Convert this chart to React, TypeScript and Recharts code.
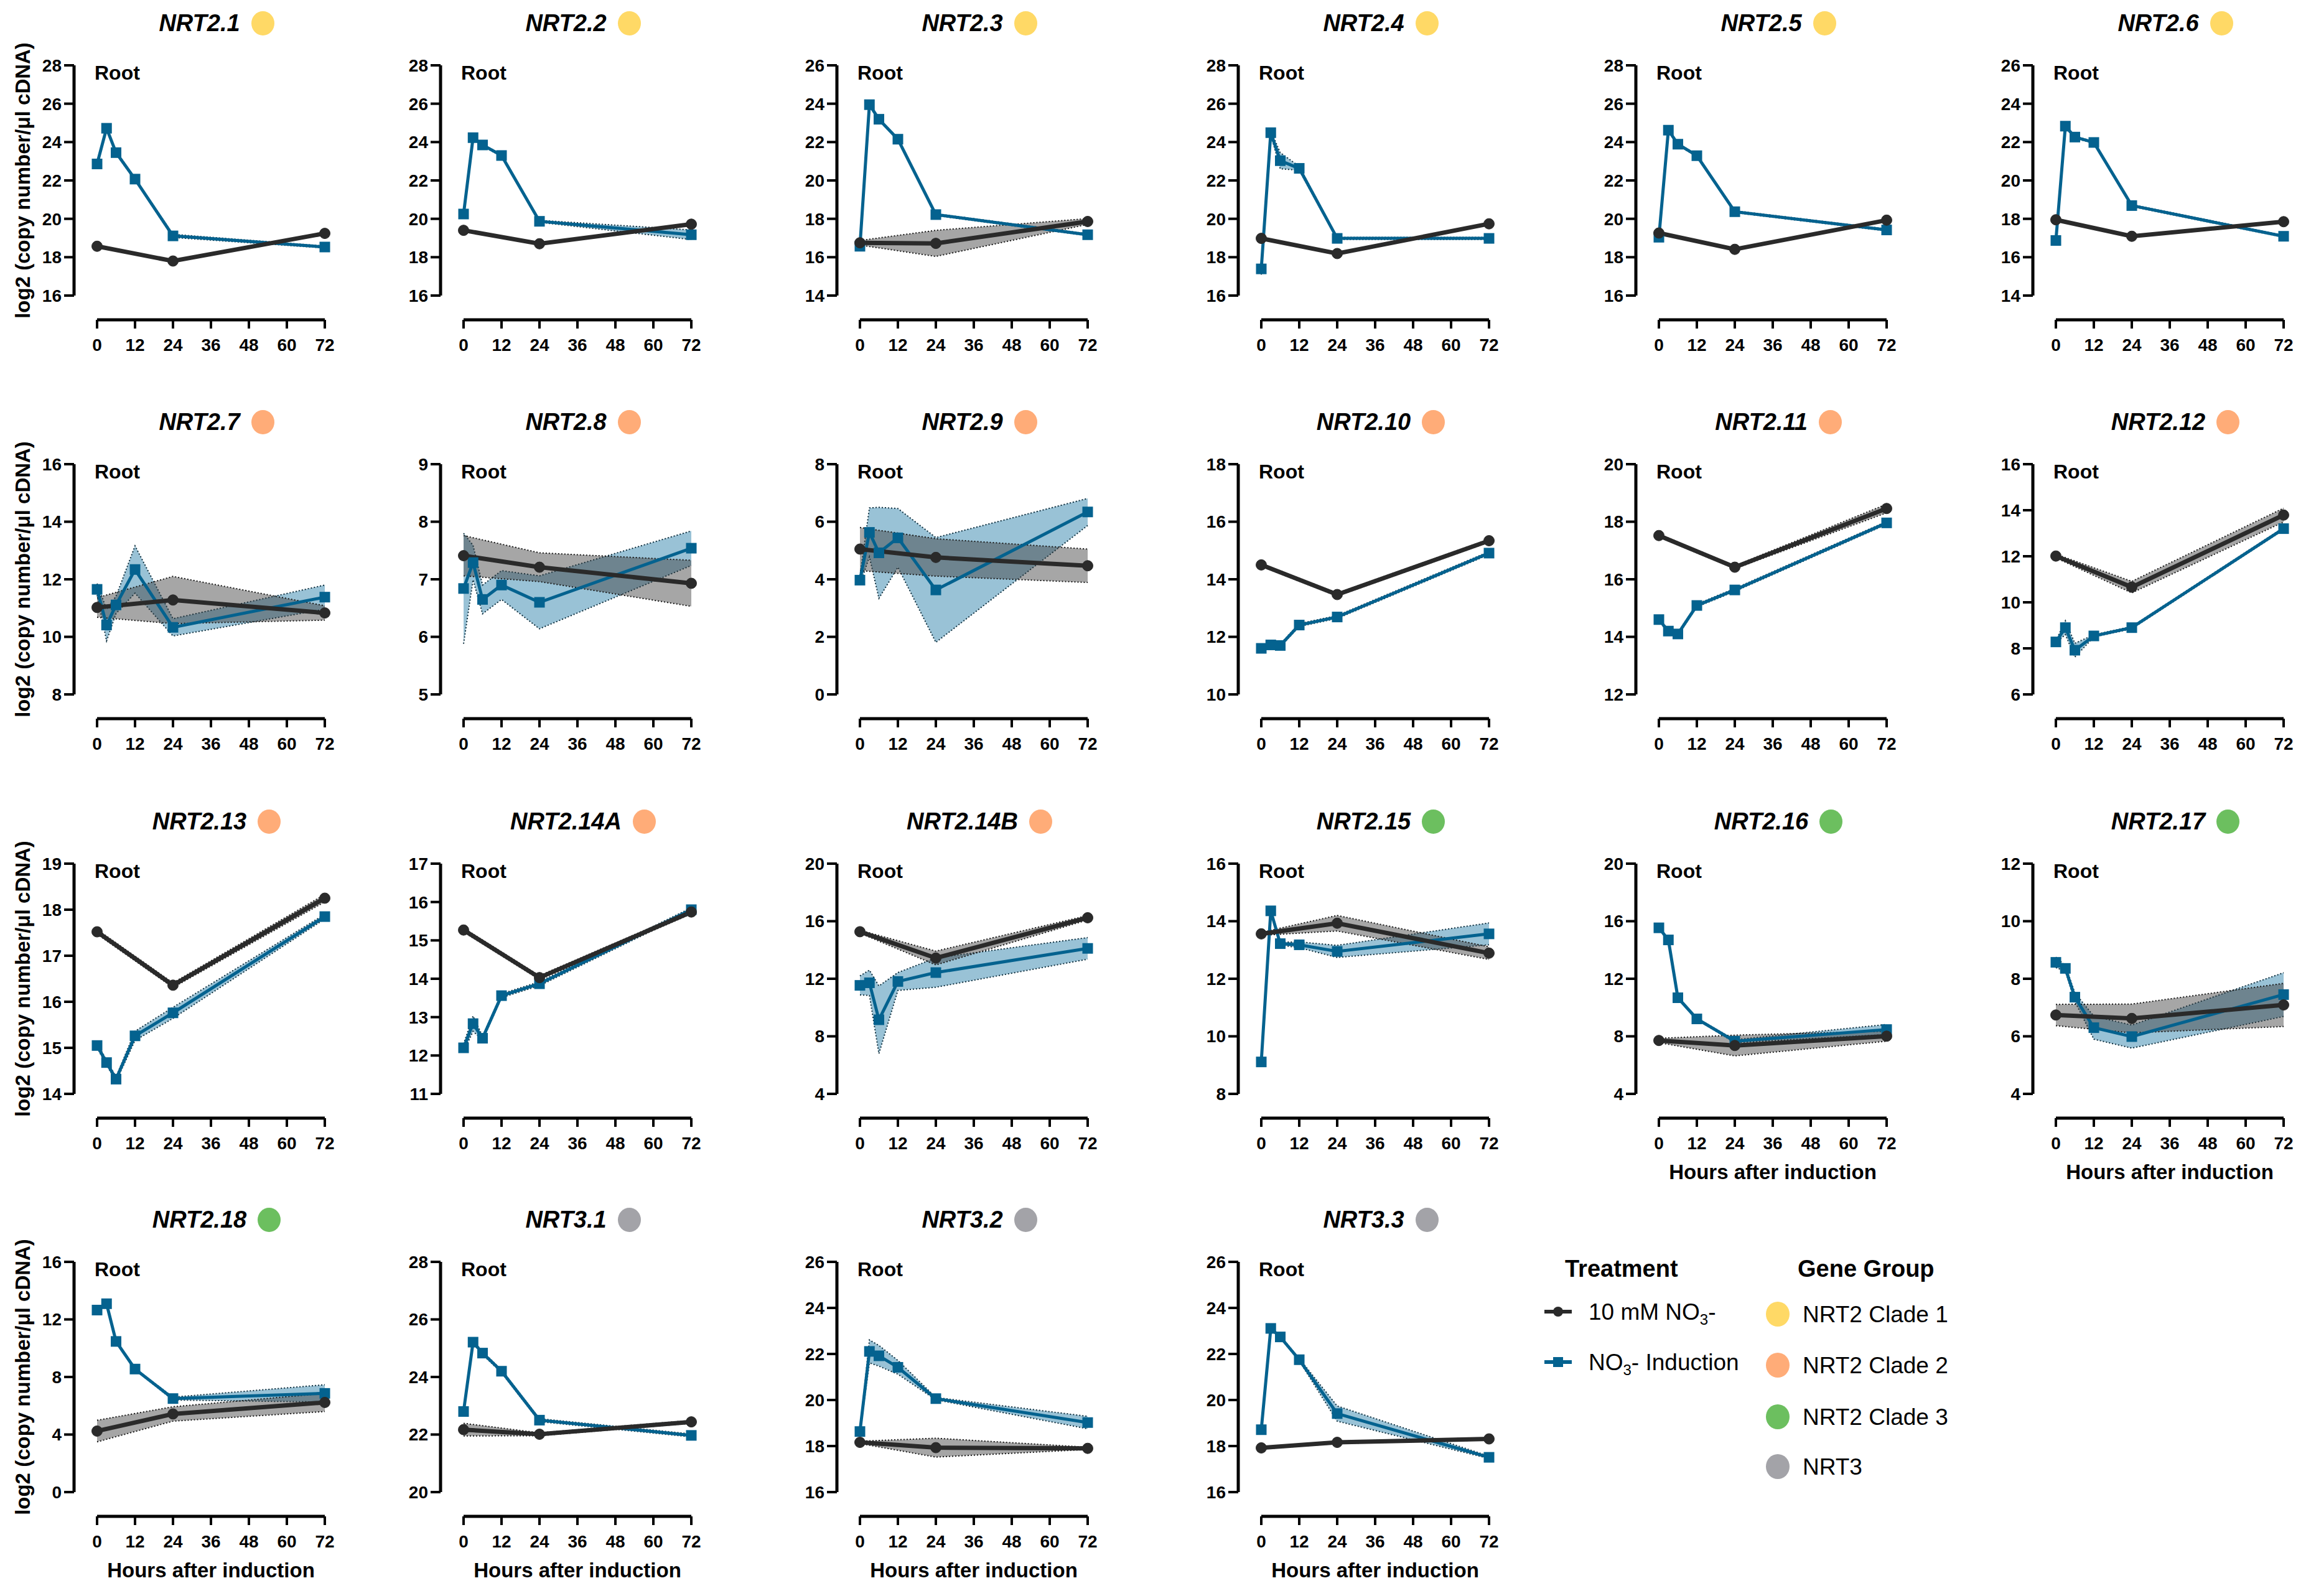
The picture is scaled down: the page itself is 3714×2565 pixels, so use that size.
import React from "react";
import { ComposedChart, Line, Area, XAxis, YAxis, ReferenceLine } from "recharts";

// ---- data ----
const GENES = [
  "NRT2.1", "NRT2.2", "NRT2.3", "NRT2.4", "NRT2.5", "NRT2.6",
  "NRT2.7", "NRT2.8", "NRT2.9", "NRT2.10", "NRT2.11", "NRT2.12",
  "NRT2.13", "NRT2.14A", "NRT2.14B", "NRT2.15", "NRT2.16", "NRT2.17",
  "NRT2.18", "NRT3.1", "NRT3.2", "NRT3.3",
];
const GENE_GROUP = [0, 0, 0, 0, 0, 0, 1, 1, 1, 1, 1, 1, 1, 1, 1, 2, 2, 2, 2, 3, 3, 3];
const GROUPS = ["NRT2 Clade 1", "NRT2 Clade 2", "NRT2 Clade 3", "NRT3"];
const GROUP_COLORS = ["#FFD966", "#FFAC78", "#6CBF5F", "#A3A3A8"];

const X_TICKS = [0, 12, 24, 36, 48, 60, 72];
const Y_TICKS = [
  [16, 18, 20, 22, 24, 26, 28],
  [16, 18, 20, 22, 24, 26, 28],
  [14, 16, 18, 20, 22, 24, 26],
  [16, 18, 20, 22, 24, 26, 28],
  [16, 18, 20, 22, 24, 26, 28],
  [14, 16, 18, 20, 22, 24, 26],
  [8, 10, 12, 14, 16],
  [5, 6, 7, 8, 9],
  [0, 2, 4, 6, 8],
  [10, 12, 14, 16, 18],
  [12, 14, 16, 18, 20],
  [6, 8, 10, 12, 14, 16],
  [14, 15, 16, 17, 18, 19],
  [11, 12, 13, 14, 15, 16, 17],
  [4, 8, 12, 16, 20],
  [8, 10, 12, 14, 16],
  [4, 8, 12, 16, 20],
  [4, 6, 8, 10, 12],
  [0, 4, 8, 12, 16],
  [20, 22, 24, 26, 28],
  [16, 18, 20, 22, 24, 26],
  [16, 18, 20, 22, 24, 26],
];

// 10 mM NO3- (black), hours 0 / 24 / 72
const TIMES_NO3 = [0, 24, 72];
const NO3_MEAN = [
  [18.57, 17.8, 19.24], [19.4, 18.7, 19.72], [16.75, 16.72, 17.86], [18.98, 18.19, 19.74],
  [19.26, 18.41, 19.93], [17.95, 17.09, 17.85], [11.02, 11.28, 10.83], [7.41, 7.21, 6.93],
  [5.05, 4.76, 4.47], [14.5, 13.47, 15.34], [17.52, 16.42, 18.46], [12.01, 10.66, 13.79],
  [17.52, 16.36, 18.25], [15.27, 14.03, 15.74], [15.27, 13.44, 16.24], [13.56, 13.93, 12.89],
  [7.71, 7.36, 8.01], [6.74, 6.62, 7.09], [4.24, 5.43, 6.23], [22.17, 22.01, 22.44],
  [18.16, 17.93, 17.9], [17.92, 18.16, 18.31],
];
const NO3_ERR = [
  [0.05, 0.05, 0.05], [0.05, 0.05, 0.05], [0.12, 0.68, 0.15], [0.05, 0.05, 0.05],
  [0.05, 0.05, 0.05], [0.05, 0.05, 0.05], [0.34, 0.82, 0.25], [0.35, 0.25, 0.4],
  [0.75, 0.65, 0.58], [0.05, 0.05, 0.05], [0.05, 0.05, 0.15], [0.08, 0.25, 0.3],
  [0.05, 0.05, 0.08], [0.05, 0.05, 0.05], [0.1, 0.48, 0.15], [0.05, 0.27, 0.22],
  [0.15, 0.72, 0.35], [0.37, 0.5, 0.75], [0.75, 0.5, 0.63], [0.22, 0.05, 0.05],
  [0.05, 0.41, 0.05], [0.05, 0.05, 0.05],
];

// NO3- induction (blue), hours 0 / 3 / 6 / 12 / 24 / 72
const TIMES_IND = [0, 3, 6, 12, 24, 72];
const IND_MEAN = [
  [22.86, 24.72, 23.45, 22.07, 19.11, 18.53],
  [20.25, 24.23, 23.85, 23.3, 19.87, 19.17],
  [16.57, 23.95, 23.19, 22.15, 18.22, 17.17],
  [17.39, 24.49, 23.03, 22.63, 18.98, 18.98],
  [19.04, 24.62, 23.89, 23.29, 20.37, 19.42],
  [16.87, 22.83, 22.26, 21.98, 18.69, 17.09],
  [11.65, 10.41, 11.11, 12.34, 10.33, 11.38],
  [6.84, 7.29, 6.65, 6.9, 6.6, 7.54],
  [3.97, 5.63, 4.92, 5.44, 3.63, 6.34],
  [11.6, 11.72, 11.7, 12.41, 12.69, 14.91],
  [14.6, 14.2, 14.1, 15.09, 15.63, 17.96],
  [8.28, 8.9, 7.92, 8.54, 8.9, 13.2],
  [15.05, 14.68, 14.32, 15.26, 15.76, 17.85],
  [12.2, 12.83, 12.45, 13.56, 13.87, 15.8],
  [11.54, 11.72, 9.15, 11.81, 12.43, 14.11],
  [9.11, 14.36, 13.22, 13.18, 12.95, 13.56],
  [15.54, 14.7, 10.68, 9.21, 7.66, 8.47],
  [8.57, 8.36, 7.36, 6.3, 5.99, 7.45],
  [12.65, 13.09, 10.47, 8.55, 6.5, 6.86],
  [22.8, 25.21, 24.83, 24.2, 22.5, 21.97],
  [18.63, 22.11, 21.92, 21.42, 20.06, 19.02],
  [18.71, 23.11, 22.74, 21.75, 19.41, 17.51],
];
const IND_ERR = [
  [0.1, 0.05, 0.08, 0.05, 0.08, 0.05],
  [0.05, 0.05, 0.05, 0.05, 0.05, 0.25],
  [0.1, 0.05, 0.05, 0.05, 0.05, 0.05],
  [0.3, 0.1, 0.42, 0.1, 0.05, 0.05],
  [0.05, 0.05, 0.05, 0.05, 0.05, 0.05],
  [0.05, 0.05, 0.05, 0.05, 0.05, 0.05],
  [0.2, 0.55, 0.3, 0.82, 0.3, 0.42],
  [0.96, 0.3, 0.25, 0.25, 0.46, 0.3],
  [0.15, 0.85, 1.58, 1.02, 1.82, 0.47],
  [0.05, 0.05, 0.05, 0.05, 0.05, 0.05],
  [0.05, 0.05, 0.05, 0.05, 0.05, 0.05],
  [0.05, 0.3, 0.3, 0.05, 0.05, 0.05],
  [0.05, 0.05, 0.05, 0.1, 0.12, 0.05],
  [0.1, 0.2, 0.05, 0.05, 0.05, 0.05],
  [0.66, 0.88, 2.35, 0.62, 1.02, 0.75],
  [0.05, 0.05, 0.05, 0.1, 0.21, 0.38],
  [0.05, 0.05, 0.05, 0.05, 0.1, 0.35],
  [0.18, 0.1, 0.15, 0.4, 0.4, 0.76],
  [0.05, 0.05, 0.05, 0.05, 0.1, 0.6],
  [0.05, 0.05, 0.05, 0.05, 0.05, 0.05],
  [0.05, 0.5, 0.45, 0.3, 0.05, 0.27],
  [0.05, 0.05, 0.05, 0.05, 0.33, 0.05],
];

// ---- layout ----
const FONT = 'Arial, "Liberation Sans", Helvetica, sans-serif';
const BLUE = "#04628F";
const BLACK = "#2A2A2A";
const COL_X0 = [156, 745, 1382, 2027, 2666, 3304]; // pixel x of hour 0
const ROW_TOP = [105, 746, 1388, 2028]; // pixel y of top y-tick
const DATA_W = 366; // px for 72 h
const Y_SPAN = 370; // px from min to max y tick
const AXIS_GAP = 39; // x-axis sits this far below the lowest y tick
const Y_OFFSET = 37; // y-axis sits this far left of hour 0
const YW = 80;
const XH = 100;
const MT = 20;
const RM = 10;
const PW = 420;
const PX_PER_H = DATA_W / 72;
const XMIN = -Y_OFFSET / PX_PER_H;
const XMAX = XMIN + PW / PX_PER_H;
const CW = YW + PW + RM;
const CH = MT + Y_SPAN + AXIS_GAP + XH;
const HOURS_LABEL = [16, 17, 18, 19, 20, 21];

const tickStyle = { fill: "#000", fontSize: 28, fontWeight: 700, fontFamily: FONT };

const squareDot = (p: any) => {
  const k = `sq-${p.index}`;
  if (p.cx == null || p.cy == null) return <g key={k} />;
  return <rect key={k} x={p.cx - 8.5} y={p.cy - 8.5} width={17} height={17} fill={BLUE} />;
};

function Panel({ i }: { i: number }) {
  const row = Math.floor(i / 6);
  const col = i % 6;
  const x0 = COL_X0[col];
  const top = ROW_TOP[row];
  const yTicks = Y_TICKS[i];
  const ymin = yTicks[0];
  const ymax = yTicks[yTicks.length - 1];
  const yLow = ymin - (AXIS_GAP / Y_SPAN) * (ymax - ymin);
  const axisY = top + Y_SPAN + AXIS_GAP;

  const blackData = TIMES_NO3.map((t, k) => ({
    t,
    v: NO3_MEAN[i][k],
    r: [NO3_MEAN[i][k] - NO3_ERR[i][k], NO3_MEAN[i][k] + NO3_ERR[i][k]],
  }));
  const blueData = TIMES_IND.map((t, k) => ({
    t,
    v: IND_MEAN[i][k],
    r: [IND_MEAN[i][k] - IND_ERR[i][k], IND_MEAN[i][k] + IND_ERR[i][k]],
  }));

  return (
    <>
      <div
        style={{
          position: "absolute", left: x0 - Y_OFFSET, width: Y_OFFSET + DATA_W, top: top - 68 - 19,
          textAlign: "center", fontSize: 38, lineHeight: "38px", fontWeight: 700, fontStyle: "italic",
          whiteSpace: "nowrap",
        }}
      >
        <span style={{ position: "relative" }}>
          {GENES[i]}
          <span
            style={{
              position: "absolute", left: "calc(100% + 18px)", top: "50%", marginTop: -19,
              width: 37, height: 39, borderRadius: "50%", background: GROUP_COLORS[GENE_GROUP[i]],
            }}
          />
        </span>
      </div>

      <div style={{ position: "absolute", left: x0 - Y_OFFSET - YW, top: top - MT }}>
        <ComposedChart width={CW} height={CH} margin={{ top: MT, right: RM, bottom: 0, left: 0 }}>
          <XAxis
            type="number" dataKey="t" domain={[XMIN, XMAX]} allowDataOverflow ticks={X_TICKS} interval={0}
            axisLine={false} tickLine={{ stroke: "#000", strokeWidth: 4 }} tickSize={14} tickMargin={16}
            height={XH} tick={tickStyle}
          />
          <YAxis
            type="number" domain={[yLow, ymax]} allowDataOverflow ticks={yTicks} interval={0}
            axisLine={false} tickLine={{ stroke: "#000", strokeWidth: 4 }} tickSize={16} tickMargin={4}
            width={YW} tick={tickStyle}
          />
          <ReferenceLine
            segment={[{ x: XMIN, y: ymin }, { x: XMIN, y: ymax }]}
            stroke="#000" strokeWidth={5} ifOverflow="visible"
          />
          <ReferenceLine
            segment={[{ x: 0, y: yLow }, { x: 72, y: yLow }]}
            stroke="#000" strokeWidth={5} ifOverflow="visible"
          />
          <Area
            data={blueData} dataKey="r" type="linear" fill="#0C6E9E" fillOpacity={0.42}
            stroke="#10303f" strokeWidth={2} strokeDasharray="2 3" dot={false} activeDot={false}
            isAnimationActive={false}
          />
          <Line
            data={blueData} dataKey="v" type="linear" stroke={BLUE} strokeWidth={5}
            dot={squareDot} activeDot={false} isAnimationActive={false}
          />
          <Area
            data={blackData} dataKey="r" type="linear" fill="#3A3A3A" fillOpacity={0.45}
            stroke="#1a1a1a" strokeWidth={2} strokeDasharray="2 3" dot={false} activeDot={false}
            isAnimationActive={false}
          />
          <Line
            data={blackData} dataKey="v" type="linear" stroke={BLACK} strokeWidth={7}
            dot={{ r: 8.5, fill: BLACK, stroke: BLACK, strokeWidth: 1 }} activeDot={false}
            isAnimationActive={false}
          />
        </ComposedChart>
      </div>

      <div
        style={{
          position: "absolute", left: x0 - 4, top: top - 4, fontSize: 32, lineHeight: "32px", fontWeight: 700,
        }}
      >
        Root
      </div>

      {col === 0 && (
        <div
          style={{
            position: "absolute", left: 36, top: top + Y_SPAN / 2, transform: "translate(-50%, -50%) rotate(-90deg)",
            fontSize: 33, lineHeight: "33px", fontWeight: 700, whiteSpace: "nowrap",
          }}
        >
          log2 (copy number/μl cDNA)
        </div>
      )}

      {HOURS_LABEL.includes(i) && (
        <div
          style={{
            position: "absolute", left: x0 + DATA_W / 2, top: axisY + 86, transform: "translate(-50%, -50%)",
            fontSize: 33, lineHeight: "33px", fontWeight: 700, whiteSpace: "nowrap",
          }}
        >
          Hours after induction
        </div>
      )}
    </>
  );
}

function LegendBlock() {
  const text = (cy: number, size: number): React.CSSProperties => ({
    position: "absolute", top: cy - size / 2, fontSize: size, lineHeight: `${size}px`, whiteSpace: "nowrap",
  });
  const groupY = [2112, 2194, 2277, 2357];
  return (
    <>
      <div style={{ ...text(2039, 38), left: 2515, fontWeight: 700 }}>Treatment</div>
      <div style={{ ...text(2039, 38), left: 2889, fontWeight: 700 }}>Gene Group</div>

      <svg style={{ position: "absolute", left: 2480, top: 2108 - 12 }} width={48} height={24}>
        <line x1={2} y1={12} x2={46} y2={12} stroke={BLACK} strokeWidth={6} />
        <circle cx={24} cy={12} r={8} fill={BLACK} />
      </svg>
      <div style={{ ...text(2108, 37), left: 2553 }}>
        10 mM NO<sub style={{ fontSize: 24 }}>3</sub>-
      </div>

      <svg style={{ position: "absolute", left: 2480, top: 2189 - 12 }} width={48} height={24}>
        <line x1={2} y1={12} x2={46} y2={12} stroke={BLUE} strokeWidth={6} />
        <rect x={16} y={4} width={16} height={16} fill={BLUE} />
      </svg>
      <div style={{ ...text(2189, 37), left: 2553 }}>
        NO<sub style={{ fontSize: 24 }}>3</sub>- Induction
      </div>

      {GROUPS.map((g, k) => (
        <React.Fragment key={g}>
          <div
            style={{
              position: "absolute", left: 2857 - 19, top: groupY[k] - 20, width: 38, height: 40,
              borderRadius: "50%", background: GROUP_COLORS[k],
            }}
          />
          <div style={{ ...text(groupY[k], 37), left: 2897 }}>{g}</div>
        </React.Fragment>
      ))}
    </>
  );
}

export default function App() {
  return (
    <div
      style={{
        position: "absolute", left: 0, top: 0, width: 3714, height: 2565, background: "#fff",
        fontFamily: FONT, color: "#000", overflow: "hidden",
      }}
    >
      {GENES.map((g, i) => (
        <Panel key={g} i={i} />
      ))}
      <LegendBlock />
    </div>
  );
}
